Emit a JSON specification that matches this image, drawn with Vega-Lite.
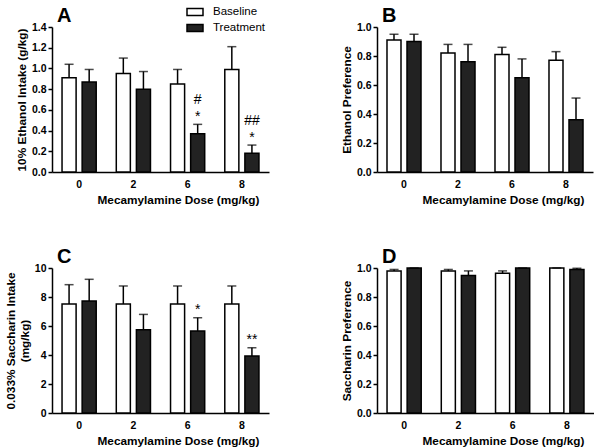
{
  "$schema": "https://vega.github.io/schema/vega-lite/v6.json",
  "padding": {"left": 5, "top": 3, "right": 0, "bottom": 0},
  "data": {"values": [
    {"panel": "A", "dose": "0", "group": "Baseline", "mean": 0.91, "hi": 1.04},
    {"panel": "A", "dose": "0", "group": "Treatment", "mean": 0.87, "hi": 0.99},
    {"panel": "A", "dose": "2", "group": "Baseline", "mean": 0.95, "hi": 1.10},
    {"panel": "A", "dose": "2", "group": "Treatment", "mean": 0.80, "hi": 0.97},
    {"panel": "A", "dose": "6", "group": "Baseline", "mean": 0.85, "hi": 0.99},
    {"panel": "A", "dose": "6", "group": "Treatment", "mean": 0.37, "hi": 0.46, "star": "*", "hash": "#"},
    {"panel": "A", "dose": "8", "group": "Baseline", "mean": 0.99, "hi": 1.21},
    {"panel": "A", "dose": "8", "group": "Treatment", "mean": 0.18, "hi": 0.26, "star": "*", "hash": "##"},
    {"panel": "B", "dose": "0", "group": "Baseline", "mean": 0.91, "hi": 0.95},
    {"panel": "B", "dose": "0", "group": "Treatment", "mean": 0.90, "hi": 0.95},
    {"panel": "B", "dose": "2", "group": "Baseline", "mean": 0.82, "hi": 0.88},
    {"panel": "B", "dose": "2", "group": "Treatment", "mean": 0.76, "hi": 0.88},
    {"panel": "B", "dose": "6", "group": "Baseline", "mean": 0.81, "hi": 0.86},
    {"panel": "B", "dose": "6", "group": "Treatment", "mean": 0.65, "hi": 0.78},
    {"panel": "B", "dose": "8", "group": "Baseline", "mean": 0.77, "hi": 0.83},
    {"panel": "B", "dose": "8", "group": "Treatment", "mean": 0.36, "hi": 0.51},
    {"panel": "C", "dose": "0", "group": "Baseline", "mean": 7.52, "hi": 8.85},
    {"panel": "C", "dose": "0", "group": "Treatment", "mean": 7.72, "hi": 9.22},
    {"panel": "C", "dose": "2", "group": "Baseline", "mean": 7.52, "hi": 8.76},
    {"panel": "C", "dose": "2", "group": "Treatment", "mean": 5.75, "hi": 6.8},
    {"panel": "C", "dose": "6", "group": "Baseline", "mean": 7.52, "hi": 8.76},
    {"panel": "C", "dose": "6", "group": "Treatment", "mean": 5.66, "hi": 6.57, "star": "*"},
    {"panel": "C", "dose": "8", "group": "Baseline", "mean": 7.52, "hi": 8.76},
    {"panel": "C", "dose": "8", "group": "Treatment", "mean": 3.93, "hi": 4.5, "star": "**"},
    {"panel": "D", "dose": "0", "group": "Baseline", "mean": 0.979, "hi": 0.99},
    {"panel": "D", "dose": "0", "group": "Treatment", "mean": 1.0, "hi": 1.0},
    {"panel": "D", "dose": "2", "group": "Baseline", "mean": 0.979, "hi": 0.99},
    {"panel": "D", "dose": "2", "group": "Treatment", "mean": 0.949, "hi": 0.98},
    {"panel": "D", "dose": "6", "group": "Baseline", "mean": 0.963, "hi": 0.98},
    {"panel": "D", "dose": "6", "group": "Treatment", "mean": 1.0, "hi": 1.0},
    {"panel": "D", "dose": "8", "group": "Baseline", "mean": 1.0, "hi": 1.0},
    {"panel": "D", "dose": "8", "group": "Treatment", "mean": 0.99, "hi": 0.998}
  ]},
  "columns": 2,
  "spacing": {"row": 40, "column": 72},
  "resolve": {"scale": {"x": "independent", "y": "independent", "xOffset": "independent"}},
  "concat": [
    {
      "width": 217, "height": 145,
      "title": {"text": "A"},
      "transform": [{"filter": "datum.panel === 'A'"}],
      "encoding": {
        "x": {"field": "dose", "type": "nominal", "sort": ["0", "2", "6", "8"], "scale": {"paddingInner": 0.37, "paddingOuter": 0.185}, "axis": {"title": "Mecamylamine Dose (mg/kg)", "titleX": 126}},
        "xOffset": {"field": "group", "type": "nominal", "sort": ["Baseline", "Treatment"], "scale": {"paddingInner": 0.3, "paddingOuter": 0}},
        "y": {"field": "mean", "type": "quantitative", "title": "10% Ethanol Intake (g/kg)", "scale": {"domain": [0, 1.4]}, "axis": {"values": [0, 0.2, 0.4, 0.6, 0.8, 1.0, 1.2, 1.4], "format": ".1f", "labelOverlap": false}}
      },
      "layer": [
        {"mark": {"type": "bar", "stroke": "black", "strokeWidth": 1.5},
         "encoding": {
           "fill": {"field": "group", "type": "nominal", "scale": {"domain": ["Baseline", "Treatment"], "range": ["white", "#222222"]},
             "legend": {"title": null, "orient": "none", "legendX": 134, "legendY": -24, "symbolType": "M-1,-0.44H1V0.44H-1Z", "symbolSize": 256, "symbolStrokeColor": "black", "symbolStrokeWidth": 1.5, "labelFontSize": 11.5, "labelColor": "black", "labelOffset": 9, "rowPadding": 0, "padding": 0}}
         }},
        {"mark": {"type": "rule", "strokeWidth": 1.5, "color": "black"},
         "encoding": {"y2": {"field": "hi"}}},
        {"mark": {"type": "tick", "orient": "horizontal", "size": 9, "thickness": 1.5, "color": "black"},
         "encoding": {"y": {"field": "hi", "type": "quantitative"}}},
        {"transform": [{"filter": "datum.star != null"}],
         "mark": {"type": "text", "fontSize": 14, "dy": -3, "baseline": "alphabetic", "fill": "black"},
         "encoding": {"y": {"field": "hi", "type": "quantitative"}, "text": {"field": "star"}}},
        {"transform": [{"filter": "datum.hash != null"}],
         "mark": {"type": "text", "fontSize": 14, "dy": -20, "baseline": "alphabetic", "fill": "black"},
         "encoding": {"y": {"field": "hi", "type": "quantitative"}, "text": {"field": "hash"}}}
      ]
    },
    {
      "width": 216, "height": 145,
      "title": {"text": "B"},
      "transform": [{"filter": "datum.panel === 'B'"}],
      "encoding": {
        "x": {"field": "dose", "type": "nominal", "sort": ["0", "2", "6", "8"], "scale": {"paddingInner": 0.37, "paddingOuter": 0.185}, "axis": {"title": "Mecamylamine Dose (mg/kg)", "titleX": 126}},
        "xOffset": {"field": "group", "type": "nominal", "sort": ["Baseline", "Treatment"], "scale": {"paddingInner": 0.3, "paddingOuter": 0}},
        "y": {"field": "mean", "type": "quantitative", "title": "Ethanol Preference", "scale": {"domain": [0, 1]}, "axis": {"values": [0, 0.2, 0.4, 0.6, 0.8, 1.0], "format": ".1f", "labelOverlap": false}}
      },
      "layer": [
        {"mark": {"type": "bar", "stroke": "black", "strokeWidth": 1.5},
         "encoding": {
           "fill": {"field": "group", "type": "nominal", "scale": {"domain": ["Baseline", "Treatment"], "range": ["white", "#222222"]}}
         }},
        {"mark": {"type": "rule", "strokeWidth": 1.5, "color": "black"},
         "encoding": {"y2": {"field": "hi"}}},
        {"mark": {"type": "tick", "orient": "horizontal", "size": 9, "thickness": 1.5, "color": "black"},
         "encoding": {"y": {"field": "hi", "type": "quantitative"}}}
      ]
    },
    {
      "width": 217, "height": 145,
      "title": {"text": "C"},
      "transform": [{"filter": "datum.panel === 'C'"}],
      "encoding": {
        "x": {"field": "dose", "type": "nominal", "sort": ["0", "2", "6", "8"], "scale": {"paddingInner": 0.37, "paddingOuter": 0.185}, "axis": {"title": "Mecamylamine Dose (mg/kg)", "titleX": 126}},
        "xOffset": {"field": "group", "type": "nominal", "sort": ["Baseline", "Treatment"], "scale": {"paddingInner": 0.3, "paddingOuter": 0}},
        "y": {"field": "mean", "type": "quantitative", "title": ["0.033% Saccharin Intake", "(mg/kg)"], "scale": {"domain": [0, 10]}, "axis": {"values": [0, 2, 4, 6, 8, 10], "format": "d", "labelOverlap": false}}
      },
      "layer": [
        {"mark": {"type": "bar", "stroke": "black", "strokeWidth": 1.5},
         "encoding": {
           "fill": {"field": "group", "type": "nominal", "scale": {"domain": ["Baseline", "Treatment"], "range": ["white", "#222222"]}}
         }},
        {"mark": {"type": "rule", "strokeWidth": 1.5, "color": "black"},
         "encoding": {"y2": {"field": "hi"}}},
        {"mark": {"type": "tick", "orient": "horizontal", "size": 9, "thickness": 1.5, "color": "black"},
         "encoding": {"y": {"field": "hi", "type": "quantitative"}}},
        {"transform": [{"filter": "datum.star != null"}],
         "mark": {"type": "text", "fontSize": 14, "dy": -4, "baseline": "alphabetic", "fill": "black"},
         "encoding": {"y": {"field": "hi", "type": "quantitative"}, "text": {"field": "star"}}}
      ]
    },
    {
      "width": 217, "height": 145,
      "title": {"text": "D"},
      "transform": [{"filter": "datum.panel === 'D'"}],
      "encoding": {
        "x": {"field": "dose", "type": "nominal", "sort": ["0", "2", "6", "8"], "scale": {"paddingInner": 0.37, "paddingOuter": 0.185}, "axis": {"title": "Mecamylamine Dose (mg/kg)", "titleX": 126}},
        "xOffset": {"field": "group", "type": "nominal", "sort": ["Baseline", "Treatment"], "scale": {"paddingInner": 0.3, "paddingOuter": 0}},
        "y": {"field": "mean", "type": "quantitative", "title": "Saccharin Preference", "scale": {"domain": [0, 1]}, "axis": {"values": [0, 0.2, 0.4, 0.6, 0.8, 1.0], "format": ".1f", "labelOverlap": false}}
      },
      "layer": [
        {"mark": {"type": "bar", "stroke": "black", "strokeWidth": 1.5},
         "encoding": {
           "fill": {"field": "group", "type": "nominal", "scale": {"domain": ["Baseline", "Treatment"], "range": ["white", "#222222"]}}
         }},
        {"mark": {"type": "rule", "strokeWidth": 1.5, "color": "black"},
         "encoding": {"y2": {"field": "hi"}}},
        {"mark": {"type": "tick", "orient": "horizontal", "size": 9, "thickness": 1.5, "color": "black"},
         "encoding": {"y": {"field": "hi", "type": "quantitative"}}}
      ]
    }
  ],
  "config": {
    "font": "Liberation Sans",
    "view": {"stroke": null},
    "title": {"anchor": "start", "frame": "group", "fontSize": 20, "fontWeight": "bold", "color": "black", "offset": -4, "dx": 5},
    "axis": {"grid": false, "domainColor": "black", "domainWidth": 1.5, "tickColor": "black", "tickWidth": 1.5, "tickSize": 4, "labelFontSize": 10.5, "labelFontWeight": "bold", "labelColor": "black", "labelPadding": 2, "titleFontSize": 11.8, "titleFontWeight": "bold", "titleColor": "black", "titlePadding": 4},
    "axisX": {"ticks": false, "tickSize": 0, "labelPadding": 7, "labelAngle": 0, "titlePadding": 5},
    "legend": {"labelFont": "Liberation Sans", "labelFontSize": 11.5}
  }
}
